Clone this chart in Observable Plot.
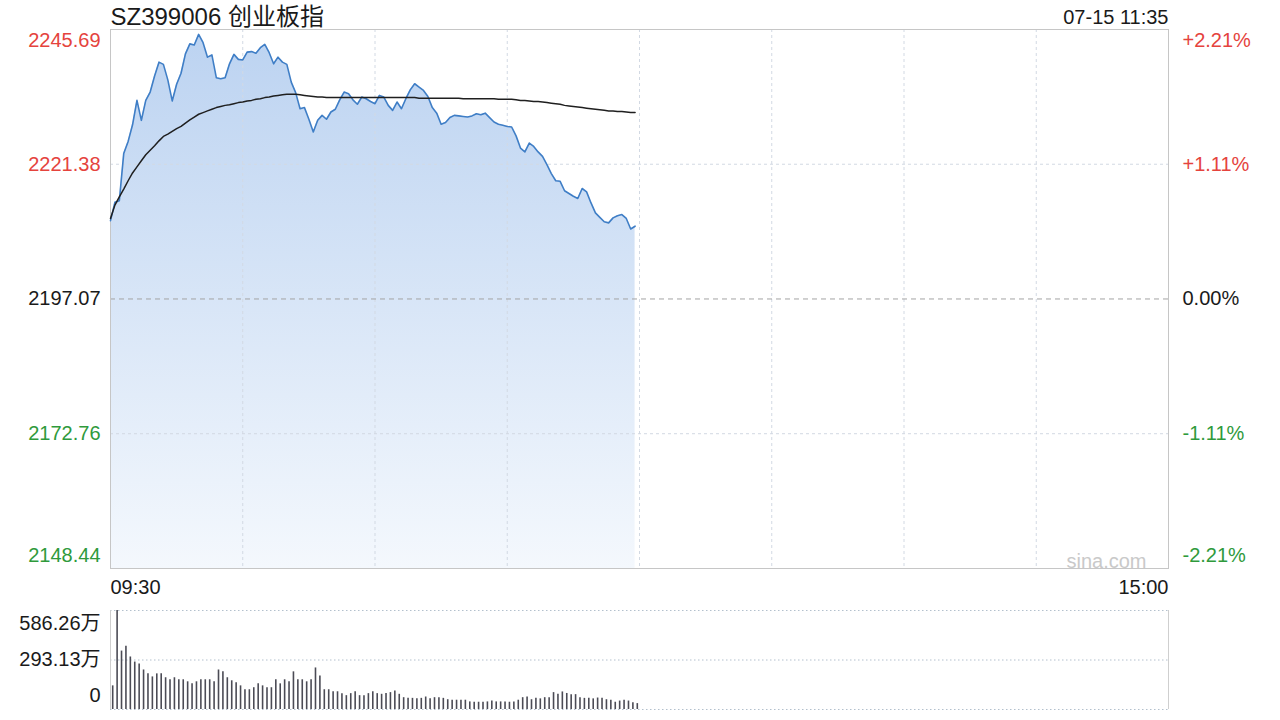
<!DOCTYPE html>
<html>
<head>
<meta charset="utf-8">
<script src="https://cdn.jsdelivr.net/npm/d3@7"></script>
<script src="https://cdn.jsdelivr.net/npm/@observablehq/plot@0.6"></script>
<style>
  html, body { margin: 0; padding: 0; background: #fff; overflow: hidden; }
  #wrap { position: relative; width: 1280px; height: 720px; overflow: hidden; background: #fff; }
  #price { position: absolute; left: 0; top: 0; }
  #vol { position: absolute; left: 0; top: 600px; }
</style>
</head>
<body>
<div id="wrap"><div id="price"></div><div id="vol"></div></div>
<script>
// ---------- data ----------
const chartTitle = "SZ399006 创业板指";
const stampText = "07-15 11:35";
const priceTicks = [2245.69, 2221.38, 2197.07, 2172.76, 2148.44];
const pctLabels = ["+2.21%", "+1.11%", "0.00%", "-1.11%", "-2.21%"];
const tickColors = ["#e5433d", "#e5433d", "#1a1a1a", "#2f9a3c", "#2f9a3c"];
const timeLabels = ["09:30", "15:00"];
const sessionMinutes = [0, 240];
const gridMinutes = [30, 60, 90, 120, 150, 180, 210];
const volTicks = [586.26, 293.13, 0];
const volLabels = ["586.26万", "293.13万", "0"];
const watermark = "sina.com";

const price = [
  2211.2,2214.5,2214.8,2223.3,2225.5,2228.5,2232.9,2229.3,2232.9,2234.4,
  2237.3,2239.8,2239.4,2236.6,2232.8,2235.8,2237.8,2241.3,2243.1,2242.9,
  2244.8,2243.3,2240.7,2241.1,2237.0,2236.8,2237.0,2239.5,2241.2,2240.3,
  2240.2,2241.6,2241.7,2241.4,2242.4,2243.0,2241.5,2239.5,2240.7,2239.8,
  2239.4,2236.2,2234.3,2231.4,2231.6,2229.5,2227.2,2229.3,2230.2,2229.5,
  2230.8,2231.3,2233.0,2234.4,2234.1,2233.0,2232.2,2233.5,2233.2,2232.7,
  2232.3,2233.8,2233.5,2232.0,2231.1,2232.6,2231.4,2233.2,2234.8,2235.9,
  2235.3,2234.7,2233.6,2231.6,2230.6,2228.6,2228.9,2229.8,2230.2,2230.1,
  2230.0,2229.9,2230.1,2230.5,2230.3,2230.6,2229.8,2229.0,2228.6,2228.4,
  2228.2,2228.1,2226.5,2224.3,2223.6,2225.2,2224.6,2223.6,2222.8,2221.3,
  2219.7,2218.4,2218.3,2216.6,2216.1,2215.6,2215.2,2217.0,2216.4,2214.4,
  2212.6,2211.8,2211.0,2210.8,2211.7,2212.1,2212.3,2211.6,2209.7,2210.2
];
const avgPrice = [
  2211.6,2214.0,2215.5,2216.9,2218.4,2219.8,2220.9,2222.0,2223.1,2223.9,
  2224.7,2225.6,2226.4,2226.8,2227.3,2227.8,2228.2,2228.8,2229.4,2229.9,
  2230.4,2230.7,2231.0,2231.3,2231.6,2231.8,2232.0,2232.1,2232.3,2232.5,
  2232.6,2232.8,2232.9,2233.1,2233.2,2233.4,2233.5,2233.7,2233.8,2233.9,
  2234.0,2234.0,2234.0,2233.9,2233.8,2233.7,2233.6,2233.5,2233.5,2233.4,
  2233.4,2233.4,2233.4,2233.4,2233.4,2233.4,2233.4,2233.4,2233.4,2233.4,
  2233.4,2233.4,2233.4,2233.4,2233.4,2233.4,2233.4,2233.4,2233.4,2233.4,
  2233.3,2233.3,2233.3,2233.3,2233.3,2233.3,2233.3,2233.3,2233.3,2233.3,
  2233.2,2233.2,2233.2,2233.2,2233.2,2233.2,2233.2,2233.2,2233.1,2233.1,
  2233.1,2233.1,2233.0,2232.9,2232.9,2232.8,2232.7,2232.7,2232.6,2232.5,
  2232.4,2232.3,2232.2,2232.0,2231.9,2231.8,2231.7,2231.6,2231.5,2231.4,
  2231.3,2231.2,2231.1,2231.0,2231.0,2230.9,2230.9,2230.8,2230.7,2230.7
];
// volume in 万
const volume = [
  140,586,346,375,311,281,270,234,211,193,
  211,211,188,176,188,176,176,164,152,164,
  176,176,176,164,234,223,188,170,158,140,
  117,117,129,152,140,129,129,176,152,176,
  164,223,176,176,164,176,246,199,117,117,
  105,105,94,82,94,105,82,82,94,105,
  94,90,95,100,110,90,70,66,66,63,
  66,74,63,70,70,66,58,55,55,55,
  55,45,43,43,43,45,50,45,45,45,
  43,45,55,70,74,58,66,63,70,70,
  100,90,104,95,88,88,70,66,66,63,
  68,66,58,55,43,50,55,50,40,35
];

// ---------- build ----------
const font = '"Liberation Sans","Noto Sans CJK SC",Arial,sans-serif';
const rows = price.map((p, i) => ({ t: i, p, a: avgPrice[i], v: volume[i] }));
const tickIdx = d => priceTicks.indexOf(d);
const fs = 20;

const leftLabel = (data, dy) => Plot.text(data, {
  y: d => d, text: d => priceTicks[tickIdx(d)].toFixed(2), fill: d => tickColors[tickIdx(d)],
  frameAnchor: "left", textAnchor: "end", dx: -10, dy, fontSize: fs
});
const rightLabel = (data, dy) => Plot.text(data, {
  y: d => d, text: d => pctLabels[tickIdx(d)], fill: d => tickColors[tickIdx(d)],
  frameAnchor: "right", textAnchor: "start", dx: 14, dy, fontSize: fs
});

const p1 = Plot.plot({
  width: 1280, height: 600,
  marginLeft: 110, marginRight: 112, marginTop: 29, marginBottom: 32,
  x: { domain: sessionMinutes, axis: null },
  y: { domain: [priceTicks[4], priceTicks[0]], axis: null },
  color: { type: "identity" },
  style: { fontFamily: font, background: "#fff", overflow: "visible" },
  marks: [
    Plot.areaY(rows, { x: "t", y1: d => priceTicks[4], y2: "p", fill: "url(#pgrad)" }),
    Plot.ruleX(gridMinutes, { x: d => d, stroke: "#d2d9e3", strokeDasharray: "3,3" }),
    Plot.ruleY([priceTicks[1], priceTicks[3]], { y: d => d, stroke: "#d2d9e3", strokeDasharray: "3,3" }),
    Plot.ruleY([priceTicks[2]], { y: d => d, stroke: "#a3a3a3", strokeDasharray: "5,4" }),
    Plot.frame({ stroke: "#c6c6c6" }),
    Plot.line(rows, { x: "t", y: "p", stroke: "#3f7ec6", strokeWidth: 1.6 }),
    Plot.line(rows, { x: "t", y: "a", stroke: "#1f1f1f", strokeWidth: 1.5 }),
    leftLabel([priceTicks[0]], 11.5),
    leftLabel(priceTicks.slice(1, 4), 0),
    leftLabel([priceTicks[4]], -12.5),
    rightLabel([priceTicks[0]], 11.5),
    rightLabel(priceTicks.slice(1, 4), 0),
    rightLabel([priceTicks[4]], -12.5),
    Plot.text([chartTitle], { text: d => d, frameAnchor: "top-left", textAnchor: "start", lineAnchor: "bottom", dy: -5, fontSize: 24, fill: "#1a1a1a" }),
    Plot.text([stampText], { text: d => d, frameAnchor: "top-right", textAnchor: "end", lineAnchor: "bottom", dy: -6, fontSize: fs, fill: "#1a1a1a" }),
    Plot.text([timeLabels[0]], { text: d => d, frameAnchor: "bottom-left", textAnchor: "start", lineAnchor: "top", dy: 11, fontSize: fs, fill: "#1a1a1a" }),
    Plot.text([timeLabels[1]], { text: d => d, frameAnchor: "bottom-right", textAnchor: "end", lineAnchor: "top", dy: 11, fontSize: fs, fill: "#1a1a1a" }),
    Plot.text([watermark], { text: d => d, frameAnchor: "bottom-right", textAnchor: "end", lineAnchor: "bottom", dx: -22, dy: -1, fontSize: fs, fill: "#c9c9c9" })
  ]
});
const ns = "http://www.w3.org/2000/svg";
const defs = document.createElementNS(ns, "defs");
defs.innerHTML = '<linearGradient id="pgrad" x1="0" y1="0" x2="0" y2="1">' +
  '<stop offset="0" stop-color="#bcd3f1"/><stop offset="1" stop-color="#f4f8fd"/></linearGradient>';
p1.insertBefore(defs, p1.firstChild);
document.getElementById("price").appendChild(p1);

const volLabel = (i, dy) => Plot.text([volTicks[i]], {
  y: d => d, text: d => volLabels[i], frameAnchor: "left", textAnchor: "end", dx: -10, dy, fontSize: fs, fill: "#1a1a1a"
});
const p2 = Plot.plot({
  width: 1280, height: 120,
  marginLeft: 110, marginRight: 112, marginTop: 10, marginBottom: 11,
  x: { domain: sessionMinutes, axis: null },
  y: { domain: [0, volTicks[0]], axis: null },
  style: { fontFamily: font, background: "#fff", overflow: "visible" },
  marks: [
    Plot.ruleY(volTicks, { y: d => d, stroke: "#b3c0cd", strokeDasharray: "1.5,2.5" }),
    Plot.ruleX(sessionMinutes, { x: d => d, stroke: "#cfcfcf" }),
    Plot.ruleX(rows, { x: d => d.t + 0.5, y: "v", stroke: "#4b4b55", strokeWidth: 1.6 }),
    volLabel(0, 13.5),
    volLabel(1, 0),
    volLabel(2, -13.5)
  ]
});
document.getElementById("vol").appendChild(p2);
</script>
</body>
</html>
